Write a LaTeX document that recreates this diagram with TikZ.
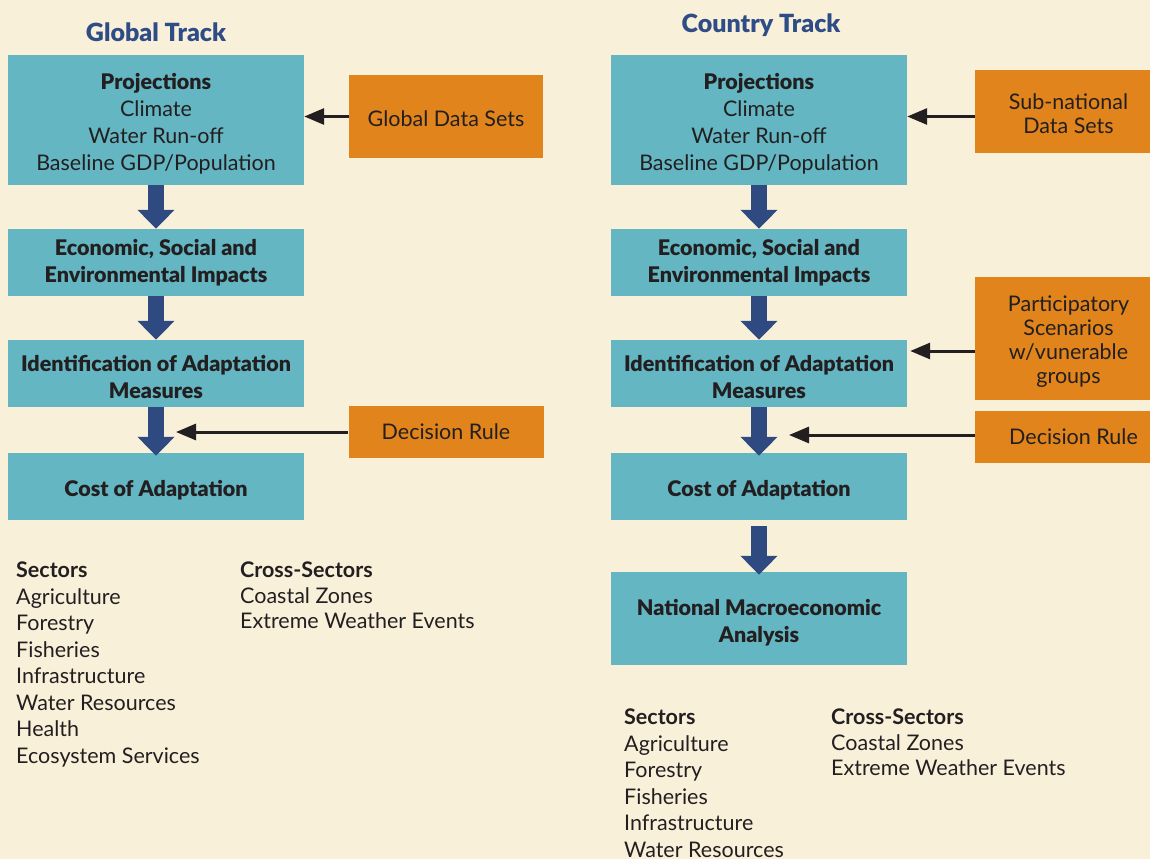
\documentclass[tikz,border=0pt]{standalone}
\usepackage{fontspec}
\setmainfont{Lato}
\newfontfamily\heavy{Lato Black}
\usetikzlibrary{arrows.meta}
\definecolor{bgc}{HTML}{F9F0DA}
\definecolor{tealbox}{HTML}{63B6C2}
\definecolor{orangebox}{HTML}{E0841B}
\definecolor{arrowblue}{HTML}{2F4A80}
\definecolor{titleblue}{HTML}{2E4C85}
\definecolor{txt}{HTML}{231F20}
\newcommand\myfs[2]{\fontsize{#1}{#2}\selectfont}
\newcommand\hb[1]{{\heavy #1}}
\newcommand\tup{\rule{0pt}{24pt}}
\newcommand\oup{\rule{0pt}{21pt}}
\begin{document}
\begin{tikzpicture}[x=1pt,y=-1pt,
  tbox/.style={fill=tealbox, minimum width=296, inner sep=0, align=center, text=txt, font=\myfs{21.5}{27}},
  obox/.style={fill=orangebox, inner sep=0, align=center, text=txt, font=\myfs{21.5}{24}},
  ttl/.style={text=titleblue, font=\myfs{25}{29}\heavy, inner sep=0},
  blk/.style={draw=arrowblue, line width=16, -{Triangle[width=36,length=19]}, fill=arrowblue},
  thinarr/.style={draw=txt, line width=3, -{Triangle[width=16,length=20]}},
  lst/.style={anchor=north west, inner sep=0, align=left, text=txt, font=\myfs{21.5}{26.5}}
]
\useasboundingbox (0,0) rectangle (1150,859);
\fill[bgc] (0,0) rectangle (1150,859);

% Global track
\node[ttl] (gt) at (156,32) {Global Track};
\node[tbox, minimum height=130] (gp) at (156,120) {\tup\hb{Projections}\\Climate\\Water Run-off\\Baseline GDP/Population};
\node[tbox, minimum height=67] (ge) at (156,262.5) {\hb{Economic, Social and}\\\hb{Environmental Impacts}};
\node[tbox, minimum height=67] (gi) at (156,373.5) {\tup\hb{Identification of Adaptation}\\\hb{Measures}};
\node[tbox, minimum height=67] (gc) at (156,486.5) {\tup\hb{Cost of Adaptation}};
\node[obox, minimum width=194, minimum height=83] (gd) at (446,116.5) {\oup Global Data Sets};
\node[obox, minimum width=195, minimum height=52] (gr) at (446,432) {Decision Rule};
\coordinate (gdr) at (176,431);

\draw[blk] (gp.south) -- (ge.north);
\draw[blk] (ge.south) -- (gi.north);
\draw[blk] (gi.south) -- ([yshift=-3]gc.north);
\draw[thinarr] (gd.west) -- (gd.west -| gp.east);
\draw[thinarr] (gr.west) -- (gr.west -| gdr);

\node[lst] (gs) at (16,562) {\textbf{Sectors}\\Agriculture\\Forestry\\Fisheries\\Infrastructure\\Water Resources\\Health\\Ecosystem Services};
\node[lst, font=\myfs{21.5}{25.5}] (gx) at (240,562) {\textbf{Cross-Sectors}\\Coastal Zones\\Extreme Weather Events};

% Country track
\node[ttl] (ct) at (761,25) {Country Track};
\node[tbox, minimum height=130] (cp) at (759,120) {\tup\hb{Projections}\\Climate\\Water Run-off\\Baseline GDP/Population};
\node[tbox, minimum height=67] (ce) at (759,262.5) {\hb{Economic, Social and}\\\hb{Environmental Impacts}};
\node[tbox, minimum height=67] (ci) at (759,373.5) {\tup\hb{Identification of Adaptation}\\\hb{Measures}};
\node[tbox, minimum height=67] (cc) at (759,486.5) {\tup\hb{Cost of Adaptation}};
\node[tbox, minimum height=93] (cn) at (759,618.5) {\tup\hb{National Macroeconomic}\\\hb{Analysis}};
\node[obox, minimum width=175, minimum height=83] (cd) at (1062.5,111.5) {\oup\hspace*{12pt}Sub-national\\\hspace*{12pt}Data Sets};
\node[obox, minimum width=175, minimum height=123] (cs) at (1062.5,338.5) {\oup\hspace*{12pt}Participatory\\\hspace*{12pt}Scenarios\\\hspace*{12pt}w/vunerable\\\hspace*{12pt}groups};
\node[obox, minimum width=175, minimum height=52] (cr) at (1062.5,437) {\hspace*{22pt}Decision Rule};
\coordinate (psy) at (0,351);
\coordinate (crt) at (789,435);

\draw[blk] (cp.south) -- (ce.north);
\draw[blk] (ce.south) -- (ci.north);
\draw[blk] (ci.south) -- ([yshift=-3]cc.north);
\draw[blk] ([yshift=-6]cc.south) -- ([yshift=-3]cn.north);
\draw[thinarr] (cd.west |- gd.west) -- (cp.east |- gd.west);
\draw[thinarr] (cs.west |- psy) -- ([xshift=3]ci.east |- psy);
\draw[thinarr] (cr.west |- crt) -- (crt);

\node[lst] (cs1) at (624,709) {\textbf{Sectors}\\Agriculture\\Forestry\\Fisheries\\Infrastructure\\Water Resources};
\node[lst, font=\myfs{21.5}{25.5}] (cx) at (831,709) {\textbf{Cross-Sectors}\\Coastal Zones\\Extreme Weather Events};
\end{tikzpicture}
\end{document}
